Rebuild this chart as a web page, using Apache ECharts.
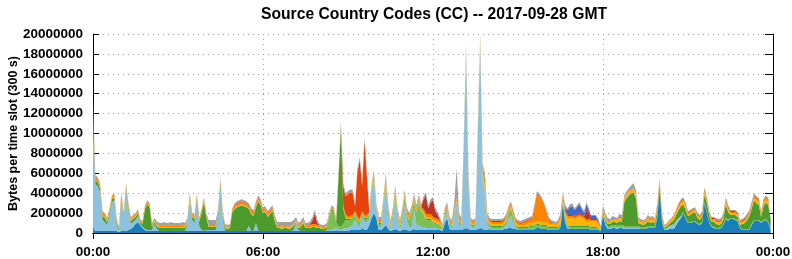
<!DOCTYPE html>
<html>
<head>
<meta charset="utf-8">
<script src="https://cdn.jsdelivr.net/npm/echarts@6/dist/echarts.min.js"></script>
<style>
html,body{margin:0;padding:0;background:#fff;}
#chart{width:792px;height:259px;}
</style>
</head>
<body>
<div id="chart"></div>
<script>
// Values are in units of 0.1 MB (100000 bytes) per 300 s slot; 288 slots (5 min each), 12 per hour.
const slotMinutes = 5;
const unitBytes = 100000;
const slotsPerTick = 72; // 6 hours
const xTickLabels = ['00:00','06:00','12:00','18:00','00:00'];

const darkBlue = [
5,2,2,2,2,2,2,2,2,2,2,1,
2,2,2,3,4,6,9,11,8,5,3,2,
2,2,2,2,2,2,2,2,2,2,2,2,
2,2,2,2,2,2,2,2,2,2,2,2,
2,2,2,2,2,2,2,2,2,2,2,2,
2,2,2,2,2,2,2,2,2,2,2,2,
2,2,2,2,2,2,2,2,2,2,2,2,
2,2,2,2,2,2,2,2,2,2,2,2,
2,2,2,2,2,2,2,3,2,2,2,2,
2,3,3,3,3,3,5,3,3,8,15,20,
15,3,3,5,8,4,2,3,4,3,2,3,
3,3,2,3,4,3,3,3,3,3,3,3,
3,3,3,3,2,10,15,4,3,3,3,3,
3,4,5,4,3,3,3,4,5,4,3,3,
4,3,3,3,3,3,4,4,5,5,4,4,
3,3,3,3,3,3,3,4,5,5,4,4,
4,3,3,3,3,3,6,30,10,4,4,4,
4,4,4,4,4,4,4,3,3,3,3,2,
18,8,4,4,5,5,4,5,5,4,4,4,
4,4,4,4,4,4,4,5,5,5,5,15,
43,10,3,3,4,4,4,8,12,15,20,14,
10,10,11,11,9,8,10,30,20,10,6,5,
4,4,5,8,14,12,14,14,13,12,5,3,
3,3,3,8,12,12,12,10,12,13,10,3];

const lightBlue = [
114,47,45,39,11,9,6,16,29,31,6,1,
33,11,41,20,5,5,4,6,1,1,1,1,
1,1,7,2,0,0,0,0,0,0,0,0,
0,0,0,0,6,32,11,8,31,5,1,0,
1,1,1,1,1,14,45,10,0,0,0,0,
0,0,0,0,0,0,5,0,0,8,0,0,
0,0,0,0,0,0,0,0,0,0,0,0,
0,1,8,1,0,0,0,0,0,0,0,0,
0,0,0,0,1,1,2,2,1,1,2,3,
3,3,5,10,5,3,10,8,8,5,25,33,
5,3,3,20,39,15,1,10,32,10,1,8,
25,8,3,3,20,5,5,3,3,2,2,2,
2,2,1,1,1,6,6,2,1,12,25,5,
3,78,175,44,3,2,3,97,182,52,35,5,
1,1,1,1,1,1,1,3,9,12,6,1,
0,0,0,0,0,0,0,0,0,0,0,0,
0,0,0,0,0,0,0,0,0,1,0,0,
0,0,0,0,0,0,0,0,0,0,0,0,
1,1,1,1,1,1,1,1,1,1,1,1,
1,1,1,1,0,0,0,0,0,0,0,0,
0,0,0,1,2,3,4,3,2,1,0,0,
0,0,0,0,0,0,0,0,0,0,0,0,
0,0,0,0,0,0,0,0,0,0,0,0,
0,0,0,0,0,0,0,0,0,0,0,0];

const lightGreen = [
0,0,0,0,0,0,0,0,0,0,0,0,
0,0,0,0,0,0,0,0,0,0,0,0,
0,0,0,0,0,0,0,0,0,0,0,0,
0,0,0,0,0,0,0,0,0,0,0,0,
0,0,0,0,0,0,0,0,0,0,0,0,
0,0,0,0,0,0,0,0,0,0,0,0,
0,0,0,0,0,0,0,0,0,0,0,0,
0,0,0,0,0,0,0,0,0,0,0,0,
0,0,0,1,12,19,17,5,4,3,5,8,
8,7,6,5,4,4,3,3,3,4,3,3,
3,3,3,3,4,4,2,5,4,5,3,7,
7,6,7,14,8,12,23,15,12,8,8,8,
5,4,4,3,1,2,2,3,2,2,2,3,
2,2,2,2,2,2,2,2,2,2,2,3,
2,2,2,2,2,2,2,4,5,7,5,2,
2,2,2,2,2,3,3,3,3,3,3,3,
3,2,2,2,2,2,2,2,2,2,2,2,
2,2,2,2,2,2,2,2,2,2,1,1,
2,2,2,2,2,2,2,2,2,2,2,2,
2,2,2,2,2,2,2,2,2,2,2,2,
2,2,1,1,1,1,1,1,1,1,1,1,
1,1,1,1,1,1,1,1,1,1,1,1,
1,1,1,1,1,1,1,1,1,1,1,1,
1,1,1,1,1,1,1,1,1,1,1,1];

const darkGreen = [
5,4,4,4,4,4,3,3,3,3,3,2,
3,3,3,3,3,3,3,3,2,3,20,26,
23,3,2,3,3,3,3,3,3,3,3,3,
3,3,3,3,2,2,3,4,3,4,17,29,
12,3,3,3,3,3,3,3,3,2,3,19,
22,24,25,26,25,24,17,17,15,16,30,26,
18,19,14,17,20,10,3,3,2,3,3,2,
3,4,1,2,4,8,3,3,3,4,4,3,
3,2,2,3,1,2,1,1,49,98,15,2,
1,1,1,1,1,1,1,1,1,1,1,1,
1,1,1,1,1,1,1,1,1,1,1,1,
1,1,1,1,1,1,1,1,1,1,1,1,
1,1,1,1,1,1,1,1,1,1,1,1,
1,1,1,1,1,1,1,1,1,1,1,1,
1,1,1,1,1,1,1,1,1,1,1,1,
1,1,1,1,1,1,1,1,1,1,1,1,
1,1,1,1,1,1,1,1,1,1,1,1,
1,1,1,1,1,1,1,1,1,1,1,0,
1,2,2,2,3,3,3,4,3,24,28,31,
33,34,27,3,3,2,3,5,3,4,3,6,
4,3,1,2,2,3,4,6,8,10,8,8,
6,7,8,9,5,4,6,8,9,6,4,5,
4,3,3,5,14,8,3,3,4,3,2,5,
6,9,13,16,20,17,15,5,14,17,17,10];

const yellow = [
2,1,1,1,1,1,1,1,1,1,1,0,
1,1,1,1,1,1,1,1,1,1,1,1,
1,1,1,1,1,1,1,1,1,1,1,1,
1,1,1,1,1,1,1,1,1,1,1,1,
1,1,1,1,1,1,1,1,1,1,1,1,
1,1,1,1,1,1,1,1,1,1,1,1,
1,1,1,1,1,1,1,1,1,1,1,1,
1,1,1,1,1,1,1,1,1,1,1,1,
1,1,1,1,1,1,1,1,1,1,1,1,
1,1,1,1,1,1,1,1,1,1,1,1,
1,1,1,1,1,1,1,1,1,1,1,1,
1,1,1,1,1,1,1,1,2,2,2,2,
2,2,2,2,1,1,1,1,1,1,2,1,
1,1,1,2,1,1,1,1,2,3,5,2,
2,2,2,2,2,2,2,2,2,2,2,2,
2,2,2,2,3,3,3,3,3,3,3,3,
3,3,3,3,2,3,5,3,6,7,8,8,
7,8,9,8,7,4,5,6,6,6,4,2,
2,3,2,2,2,2,2,3,3,3,3,3,
3,3,3,2,2,2,2,2,2,2,2,2,
2,2,1,1,2,2,2,3,3,3,3,3,
2,2,2,2,2,2,2,3,2,2,2,2,
2,2,2,2,2,3,2,2,2,2,2,2,
2,2,2,2,2,3,3,2,3,3,3,2];

const orange = [
5,3,3,3,3,3,2,2,2,2,2,1,
2,2,2,2,2,2,2,2,1,1,2,2,
2,1,1,2,1,1,2,1,1,2,1,1,
1,1,2,1,2,2,2,2,2,2,2,2,
2,1,1,1,1,2,2,2,1,1,1,2,
2,2,2,2,2,2,2,2,2,2,2,2,
2,2,2,2,2,2,1,1,1,1,1,1,
1,1,1,1,2,2,1,1,2,2,2,2,
1,1,1,1,1,1,1,1,1,2,2,2,
2,2,2,2,2,2,2,2,2,2,2,2,
2,2,2,2,4,2,2,2,3,2,2,2,
3,3,3,3,3,3,3,3,3,3,3,3,
3,3,3,2,1,2,3,2,2,2,3,2,
2,2,3,4,2,2,2,2,3,5,8,3,
2,2,2,2,2,2,2,2,2,2,2,2,
2,1,2,3,3,3,4,15,27,25,22,17,
10,4,1,1,1,1,2,2,2,2,2,2,
2,2,2,2,2,2,2,1,1,1,1,0,
1,1,1,1,1,1,1,1,1,1,1,1,
1,1,1,1,1,1,1,2,2,2,1,2,
2,1,1,1,1,1,2,2,2,2,2,2,
1,1,1,1,1,1,1,2,2,1,1,1,
1,1,1,1,2,2,1,1,1,1,1,1,
1,1,1,2,2,2,2,1,2,2,2,2];

const redOrange = [
0,0,0,0,0,0,0,0,0,0,0,0,
0,0,0,0,0,0,0,0,0,0,0,0,
0,0,0,0,0,0,0,0,0,0,0,0,
0,0,0,0,0,0,0,0,0,0,0,0,
0,0,0,0,0,0,0,0,0,0,0,0,
1,1,1,1,1,1,1,1,1,1,1,1,
1,1,1,1,1,1,0,0,0,0,0,0,
0,0,0,0,0,0,0,0,0,0,0,0,
0,0,0,0,0,0,0,0,0,2,20,19,
22,24,22,5,46,59,25,75,39,0,0,0,
0,0,0,0,0,0,0,0,0,0,0,0,
0,0,0,0,0,0,0,0,0,0,0,0,
0,0,0,0,0,0,0,0,0,0,0,0,
0,0,1,1,0,0,0,0,1,1,1,0,
0,0,0,0,0,0,0,0,0,0,0,0,
0,0,0,0,0,0,0,0,0,0,0,0,
0,0,0,0,0,0,0,0,0,0,0,0,
0,0,0,0,0,0,0,0,0,0,0,0,
0,0,0,0,0,0,0,0,0,0,0,0,
0,0,0,0,0,0,0,0,0,0,0,0,
0,0,0,0,0,0,0,0,0,0,0,0,
0,0,0,0,0,0,0,0,0,0,0,0,
0,0,0,0,0,0,0,0,0,0,0,0,
0,0,0,0,0,0,0,0,0,0,0,0];

const darkRed = [
1,0,0,0,0,0,0,0,0,0,0,0,
0,0,0,0,0,0,0,0,0,0,0,0,
0,0,0,0,0,0,0,0,0,0,0,0,
0,0,0,0,0,0,0,0,0,0,0,0,
0,0,0,0,0,0,0,0,0,0,0,0,
0,0,0,0,0,0,0,0,0,0,0,0,
0,0,0,0,0,0,0,0,0,0,0,0,
0,0,0,0,0,0,0,0,1,4,11,2,
0,0,0,0,0,0,0,0,0,0,0,0,
0,0,0,0,0,0,0,0,0,0,0,0,
0,0,0,0,0,0,0,0,0,0,0,0,
0,0,0,0,0,0,0,0,10,19,6,12,
17,7,4,1,0,0,0,0,0,0,0,0,
0,0,0,0,0,0,0,0,0,0,0,0,
1,1,1,1,1,1,1,1,1,1,1,1,
1,1,1,1,1,1,1,1,1,1,1,1,
1,1,1,0,0,1,1,1,1,1,1,1,
1,1,2,1,1,10,6,1,1,1,1,0,
0,0,0,0,0,0,0,0,0,0,0,0,
0,0,0,0,0,0,0,0,0,0,0,1,
0,0,0,0,0,0,0,0,1,1,1,1,
1,1,1,1,1,1,1,1,1,1,1,1,
1,1,1,1,1,1,1,1,1,1,1,1,
1,1,1,1,1,1,1,1,1,1,1,1];

const royalBlue = [
0,0,0,0,0,0,0,0,0,0,0,0,
0,0,0,0,0,0,0,0,0,0,0,0,
0,0,0,0,0,0,0,0,0,0,0,0,
0,0,0,0,0,0,0,0,0,0,0,0,
0,0,0,0,0,0,0,0,0,0,0,0,
0,0,0,0,0,0,0,0,0,0,0,0,
0,0,0,0,0,0,0,0,0,0,0,0,
0,0,0,0,0,0,0,0,0,0,0,0,
0,0,0,0,0,0,0,0,0,0,0,0,
0,0,0,0,0,0,0,0,0,0,0,0,
0,0,0,0,0,0,0,0,0,0,0,0,
0,0,0,0,0,0,0,0,0,0,0,0,
0,0,0,0,0,0,0,0,0,0,0,0,
0,0,0,0,0,0,0,0,0,0,0,0,
0,0,0,0,0,0,0,0,0,0,0,0,
0,0,0,0,0,0,0,0,0,0,0,0,
0,0,0,0,0,0,1,0,3,5,8,9,
6,8,9,6,3,6,3,3,3,3,2,1,
1,1,1,0,1,0,0,1,1,0,0,0,
0,0,0,0,0,0,0,0,0,0,0,0,
0,0,0,0,0,0,0,0,0,0,0,0,
0,0,0,0,0,0,0,0,0,0,0,0,
0,0,0,0,0,0,0,0,0,0,0,0,
0,0,0,0,0,0,0,0,0,0,0,0];

const grey = [
3,1,1,1,1,1,1,1,1,1,1,1,
1,1,1,1,1,1,1,1,1,1,1,1,
1,2,2,2,3,3,3,3,3,3,3,3,
3,3,3,3,2,1,1,1,1,1,2,2,
2,5,5,5,5,3,2,2,2,2,2,1,
2,2,2,2,2,2,2,2,2,2,2,2,
2,2,2,2,2,2,4,4,5,4,4,5,
4,4,3,3,3,3,3,3,3,3,3,3,
2,2,2,2,2,2,2,2,2,3,3,3,
3,3,3,3,3,3,3,3,3,3,3,3,
3,3,3,3,3,3,3,3,3,3,3,3,
3,3,3,3,3,3,3,3,3,3,3,3,
3,3,3,2,2,3,3,3,3,9,29,5,
3,2,2,2,3,2,3,3,3,2,5,3,
2,2,2,2,2,2,2,2,2,2,2,2,
2,2,2,2,2,2,2,2,2,2,2,2,
2,2,2,2,2,2,2,2,3,2,3,3,
2,2,2,2,2,2,2,1,1,1,1,1,
2,2,2,2,2,2,2,2,2,3,3,3,
4,5,5,3,2,2,2,2,2,2,2,2,
2,2,1,1,1,1,1,1,1,1,1,1,
1,1,1,1,1,1,1,1,1,1,1,1,
2,2,2,2,2,1,1,1,1,1,1,1,
2,2,2,2,2,1,1,2,1,1,1,1];

const seriesDefs = [
  {name:'darkBlue',  data:darkBlue,  color:'#1a7fb7'},
  {name:'lightBlue', data:lightBlue, color:'#8cc2df'},
  {name:'lightGreen',data:lightGreen,color:'#7cbf52'},
  {name:'darkGreen', data:darkGreen, color:'#4d9a2d'},
  {name:'yellow',    data:yellow,    color:'#ffb20a'},
  {name:'orange',    data:orange,    color:'#ff8400'},
  {name:'redOrange', data:redOrange, color:'#e8430c'},
  {name:'darkRed',   data:darkRed,   color:'#bf3428'},
  {name:'royalBlue', data:royalBlue, color:'#4467c6'},
  {name:'grey',      data:grey,      color:'#a0a0a0'}
];

function hhmm(mins){
  const h = Math.floor(mins/60) % 24, m = mins % 60;
  return (h<10?'0':'')+h+':'+(m<10?'0':'')+m;
}
// category slots: 288 data slots plus the closing 24:00 boundary
const slotCount = darkBlue.length;
const categories = [];
for (let i = 0; i <= slotCount; i++) categories.push(hhmm(i*slotMinutes));
const isTick = function(idx){ return idx % slotsPerTick === 0; };

const chart = echarts.init(document.getElementById('chart'), null, {renderer:'canvas'});
const fontFam = '"Liberation Sans", Arial, Helvetica, sans-serif';
const gridLine = {show:true, interval:isTick, lineStyle:{color:'#a0a0a0', type:[1,4], width:1}};

chart.setOption({
  animation:false,
  backgroundColor:'#ffffff',
  title:{
    text:'Source Country Codes (CC) -- 2017-09-28 GMT',
    left:429, top:2, textAlign:'center',
    textStyle:{fontFamily:fontFam, fontWeight:'bold', fontSize:15.7, color:'#000'}
  },
  grid:{left:93, right:19, top:34, bottom:26, containLabel:false, outerBoundsMode:'none'},
  xAxis:[{
    type:'category', data:categories, boundaryGap:false,
    axisLine:{show:true, onZero:false, lineStyle:{color:'#000', width:1}},
    axisTick:{show:true, inside:true, length:6, interval:isTick, lineStyle:{color:'#000'}},
    axisLabel:{show:true, margin:12, interval:isTick, fontFamily:fontFam, fontWeight:'bold', fontSize:13.5, color:'#000',
      formatter:function(v, idx){ return xTickLabels[Math.round(idx/slotsPerTick)]; }},
    splitLine:gridLine
  },{
    type:'category', data:categories, boundaryGap:false, position:'top',
    axisLine:{show:true, lineStyle:{color:'#000', width:1}},
    axisTick:{show:true, inside:true, length:6, interval:isTick, lineStyle:{color:'#000'}},
    axisLabel:{show:false}, splitLine:{show:false}
  }],
  yAxis:[{
    type:'value', min:0, max:20000000, interval:2000000,
    name:'Bytes per time slot (300 s)', nameLocation:'middle', nameGap:73, nameRotate:90,
    nameMoveOverlap:false,
    nameTextStyle:{fontFamily:fontFam, fontWeight:'bold', fontSize:12.5, color:'#000'},
    axisLine:{show:true, lineStyle:{color:'#000', width:1}},
    axisTick:{show:true, inside:true, length:6, lineStyle:{color:'#000'}},
    axisLabel:{show:true, margin:10, fontFamily:fontFam, fontWeight:'bold', fontSize:13.5, color:'#000',
      formatter:function(v){ return String(v); }},
    splitLine:{show:true, lineStyle:{color:'#a0a0a0', type:[1,4], width:1}}
  },{
    type:'value', min:0, max:20000000, interval:2000000, position:'right',
    axisLine:{show:true, lineStyle:{color:'#000', width:1}},
    axisTick:{show:true, inside:true, length:8, lineStyle:{color:'#000'}},
    axisLabel:{show:false}, splitLine:{show:false}
  }],
  series: seriesDefs.map(function(s){
    return {
      name:s.name, type:'line', stack:'total', xAxisIndex:0, yAxisIndex:0,
      symbol:'none', smooth:false,
      lineStyle:{width:0, color:s.color},
      itemStyle:{color:s.color},
      areaStyle:{color:s.color, opacity:1},
      data:s.data.map(function(v){ return v*unitBytes; })
    };
  })
});
</script>
</body>
</html>
